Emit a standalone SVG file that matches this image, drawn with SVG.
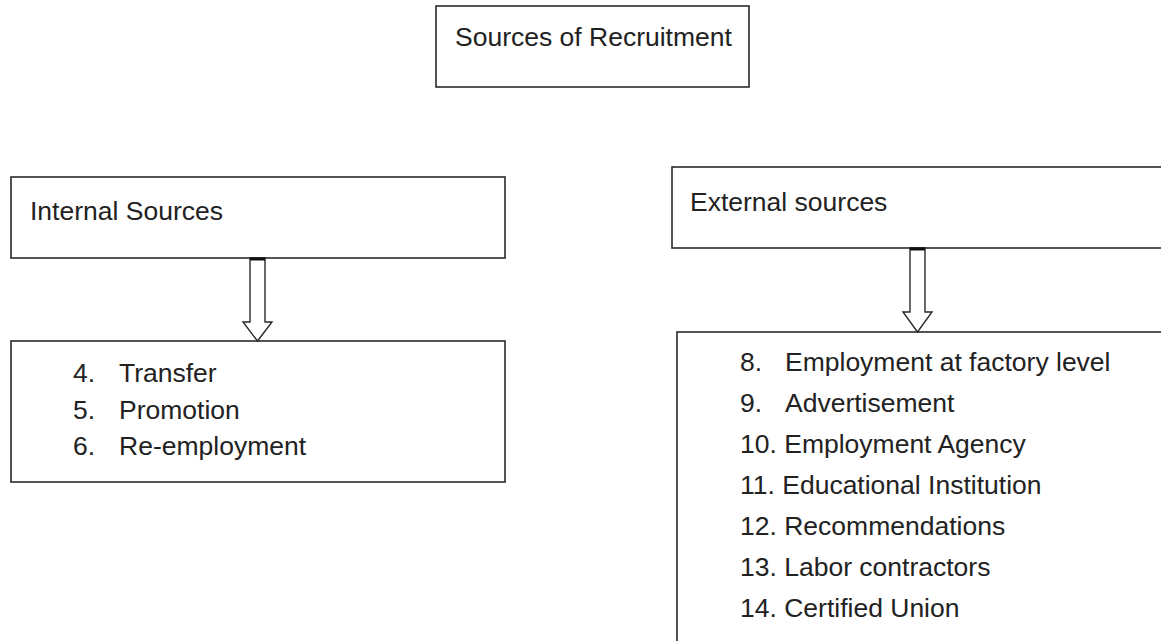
<svg xmlns="http://www.w3.org/2000/svg" width="1161" height="641" viewBox="0 0 1161 641">
  <style>
    .box { fill: #ffffff; stroke: #2a2a2a; stroke-width: 1.6; }
    .label { font-family: "Liberation Sans", Arial, sans-serif; font-size: 26.5px; fill: #222222; }
    .arrow { fill: #ffffff; stroke: #2a2a2a; stroke-width: 1.4; stroke-linejoin: miter; }
    .cap { stroke: #111111; stroke-width: 3; }
  </style>
  <rect width="1161" height="641" fill="#ffffff"/>

  <!-- title -->
  <g id="node-sources">
    <rect class="box" x="436" y="6" width="313" height="81"/>
    <text class="label" x="455" y="46">Sources of Recruitment</text>
  </g>

  <!-- internal branch -->
  <g id="node-internal">
    <rect class="box" x="11" y="177" width="494" height="81"/>
    <text class="label" x="30" y="220">Internal Sources</text>
  </g>
  <g id="node-internal-list">
    <rect class="box" x="11" y="341" width="494" height="141"/>
    <text class="label" x="73" y="382">4.</text>
    <text class="label" x="119" y="382">Transfer</text>
    <text class="label" x="73" y="419">5.</text>
    <text class="label" x="119" y="419">Promotion</text>
    <text class="label" x="73" y="455">6.</text>
    <text class="label" x="119" y="455">Re-employment</text>
  </g>

  <!-- external branch (boxes run past the right edge) -->
  <g id="node-external">
    <rect class="box" x="672" y="167" width="520" height="81"/>
    <text class="label" x="690" y="211">External sources</text>
  </g>
  <g id="node-external-list">
    <rect class="box" x="677" y="332" width="520" height="330"/>
    <text class="label" x="740" y="371">8.</text>
    <text class="label" x="785" y="371">Employment at factory level</text>
    <text class="label" x="740" y="412">9.</text>
    <text class="label" x="785" y="412">Advertisement</text>
    <text class="label" x="740" y="453">10. Employment Agency</text>
    <text class="label" x="740" y="494">11. Educational Institution</text>
    <text class="label" x="740" y="535">12. Recommendations</text>
    <text class="label" x="740" y="576">13. Labor contractors</text>
    <text class="label" x="740" y="617">14. Certified Union</text>
  </g>

  <!-- block arrows -->
  <g id="connectors">
    <polygon class="arrow" points="250,258 265,258 265,322 272,322 257.5,341 243,322 250,322"/>
    <line class="cap" x1="250" y1="259" x2="265" y2="259"/>
    <polygon class="arrow" points="910,248 925,248 925,312 932,312 917.5,332 903,312 910,312"/>
    <line class="cap" x1="910" y1="249" x2="925" y2="249"/>
  </g>
</svg>
